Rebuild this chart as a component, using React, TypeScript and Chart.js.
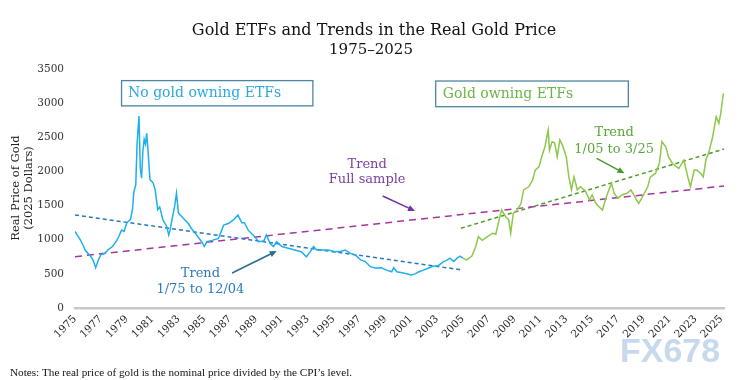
import React, { useEffect, useRef } from "react";
import { Chart, registerables } from "chart.js";

Chart.register(...registerables);

// Real gold price (2025 dollars), period without gold-owning ETFs
const noEtfYears = [
  1975.0, 1975.2, 1975.4, 1975.6, 1975.8, 1976.0, 1976.2, 1976.4, 1976.6, 1976.8,
  1977.0, 1977.3, 1977.6, 1977.9, 1978.2, 1978.4, 1978.6, 1978.8, 1979.0, 1979.3,
  1979.45, 1979.55, 1979.7, 1979.8, 1979.95, 1980.05, 1980.15, 1980.25, 1980.35, 1980.45,
  1980.55, 1980.65, 1980.8, 1981.05, 1981.2, 1981.4, 1981.55, 1981.8, 1982.1, 1982.25,
  1982.35, 1982.5, 1982.7, 1982.85, 1983.0, 1983.25, 1983.5, 1983.75, 1984.0, 1984.3,
  1984.5, 1984.8, 1985.0, 1985.2, 1985.6, 1986.1, 1986.5, 1986.9, 1987.25, 1987.6,
  1987.9, 1988.1, 1988.4, 1988.65, 1988.9, 1989.2, 1989.6, 1989.8, 1990.1, 1990.35,
  1990.6, 1991.0, 1991.5, 1992.0, 1992.5, 1992.9, 1993.2, 1993.45, 1993.7, 1994.1,
  1994.6, 1995.1, 1995.6, 1995.9, 1996.3, 1996.7, 1997.1, 1997.45, 1997.85, 1998.2,
  1998.7, 1999.1, 1999.5, 1999.65, 1999.9, 2000.5, 2001.0, 2001.3, 2001.6, 2001.95,
  2002.35, 2002.75, 2003.1, 2003.5, 2003.8, 2004.0, 2004.3, 2004.55, 2004.8, 2005.0,
];
const noEtfValues = [
  1120, 1060, 1000, 930, 840, 800, 760, 700, 590, 700,
  780, 800, 860, 900, 980, 1050, 1140, 1120, 1245, 1300,
  1450, 1700, 1800, 2400, 2810, 2050, 1900, 2300, 2470, 2400,
  2560, 2300, 1880, 1830, 1730, 1440, 1480, 1290, 1190, 1070,
  1140, 1290, 1480, 1680, 1390, 1340, 1290, 1240, 1165, 1095,
  1045, 970, 900, 970, 990, 1020, 1215, 1240, 1290, 1360,
  1250, 1250, 1140, 1090, 1045, 970, 980, 1070, 945, 900,
  970, 900, 875, 850, 825, 750, 825, 900, 850, 850,
  850, 825, 830, 850, 800, 775, 705, 680, 605, 585,
  590, 555, 530, 590, 530, 510, 485, 500, 530, 555,
  585, 615, 620, 680, 705, 730, 680, 730, 760, 730,
];

// Real gold price, period with gold-owning ETFs
const etfYears = [
  2005.0, 2005.3, 2005.7, 2006.0, 2006.2, 2006.5, 2006.9, 2007.3, 2007.55, 2007.8,
  2008.0, 2008.3, 2008.55, 2008.7, 2008.9, 2009.2, 2009.5, 2009.7, 2010.1, 2010.4,
  2010.6, 2010.9, 2011.1, 2011.35, 2011.6, 2011.7, 2011.9, 2012.1, 2012.3, 2012.5,
  2012.7, 2013.0, 2013.2, 2013.4, 2013.6, 2013.85, 2014.1, 2014.5, 2014.8, 2015.0,
  2015.3, 2015.55, 2015.8, 2016.1, 2016.3, 2016.5, 2016.7, 2017.0, 2017.3, 2017.7,
  2018.0, 2018.3, 2018.6, 2018.9, 2019.3, 2019.5, 2019.9, 2020.2, 2020.4, 2020.7,
  2020.9, 2021.2, 2021.5, 2021.7, 2022.1, 2022.4, 2022.6, 2022.9, 2023.1, 2023.4,
  2023.6, 2023.8, 2024.0, 2024.3, 2024.6, 2024.8, 2024.95, 2025.15,
];
const etfValues = [
  730, 705, 760, 900, 1045, 990, 1045, 1095, 1080, 1290,
  1435, 1340, 1290, 1095, 1385, 1435, 1530, 1730, 1775, 1875,
  2020, 2070, 2215, 2360, 2605, 2310, 2435, 2420, 2215, 2460,
  2385, 2215, 1920, 1730, 1920, 1730, 1775, 1705, 1580, 1655,
  1530, 1480, 1435, 1630, 1730, 1825, 1680, 1605, 1655, 1680,
  1730, 1630, 1530, 1630, 1775, 1920, 1970, 2120, 2435, 2360,
  2215, 2120, 2070, 2045, 2165, 1920, 1775, 2020, 2020, 1970,
  1920, 2170, 2265, 2485, 2800, 2705, 2850, 3145,
];

// Trend lines (endpoints)
const trendPreYears = [1975, 2005];
const trendPreValues = [1362, 556];
const trendFullYears = [1975, 2025.2];
const trendFullValues = [752, 1786];
const trendEtfYears = [2004.85, 2025.2];
const trendEtfValues = [1167, 2328];

// Axis ticks
const xTickYears = [
  1975, 1977, 1979, 1981, 1983, 1985, 1987, 1989, 1991, 1993, 1995, 1997, 1999,
  2001, 2003, 2005, 2007, 2009, 2011, 2013, 2015, 2017, 2019, 2021, 2023, 2025,
];
const yTickValues = [0, 500, 1000, 1500, 2000, 2500, 3000, 3500];

// Text
const titleText = "Gold ETFs and Trends in the Real Gold Price";
const subtitleText = "1975\u20132025";
const yTitleLines = ["Real Price of Gold", "(2025 Dollars)"];
const notesText = "Notes: The real price of gold is the nominal price divided by the CPI\u2019s level.";

const SERIF = "'DejaVu Serif', serif";

const pts = (xs: number[], ys: number[]) => xs.map((x, i) => ({ x, y: ys[i] }));

export default function App() {
  const ref = useRef<HTMLCanvasElement | null>(null);

  useEffect(() => {
    const canvas = ref.current;
    if (!canvas) return;

    const drawArrow = (ctx: CanvasRenderingContext2D, x1: number, y1: number, x2: number, y2: number, color: string) => {
      const a = Math.atan2(y2 - y1, x2 - x1);
      const h = 7;
      ctx.save();
      ctx.strokeStyle = color;
      ctx.fillStyle = color;
      ctx.lineWidth = 1.5;
      ctx.beginPath();
      ctx.moveTo(x1, y1);
      ctx.lineTo(x2 - Math.cos(a) * h * 0.8, y2 - Math.sin(a) * h * 0.8);
      ctx.stroke();
      ctx.beginPath();
      ctx.moveTo(x2, y2);
      ctx.lineTo(x2 - h * Math.cos(a) + (h / 2.2) * Math.sin(a), y2 - h * Math.sin(a) - (h / 2.2) * Math.cos(a));
      ctx.lineTo(x2 - h * Math.cos(a) - (h / 2.2) * Math.sin(a), y2 - h * Math.sin(a) + (h / 2.2) * Math.cos(a));
      ctx.closePath();
      ctx.fill();
      ctx.restore();
    };

    const decor = {
      id: "decor",
      afterDraw(chart: any) {
        const ctx: CanvasRenderingContext2D = chart.ctx;
        const xs = chart.scales.x;
        const ys = chart.scales.y;
        const X = (v: number) => xs.getPixelForValue(v);
        const Y = (v: number) => ys.getPixelForValue(v);
        ctx.save();

        // Title
        ctx.fillStyle = "#111";
        ctx.textAlign = "center";
        ctx.textBaseline = "alphabetic";
        ctx.font = `16px ${SERIF}`;
        ctx.fillText(titleText, 374, 35);
        ctx.font = `15px ${SERIF}`;
        ctx.fillText(subtitleText, 371, 54);

        // Y title
        ctx.save();
        ctx.translate(19, 188);
        ctx.rotate(-Math.PI / 2);
        ctx.font = `11.5px ${SERIF}`;
        ctx.fillStyle = "#222";
        ctx.textAlign = "center";
        ctx.fillText(yTitleLines[0], 0, 0);
        ctx.fillText(yTitleLines[1], 0, 13);
        ctx.restore();

        // Boxes
        ctx.strokeStyle = "#4a86a3";
        ctx.lineWidth = 1.3;
        ctx.strokeRect(X(1978.6), Y(3330), X(1993.4) - X(1978.6), Y(2960) - Y(3330));
        ctx.strokeRect(X(2002.9), Y(3324), X(2017.8) - X(2002.9), Y(2948) - Y(3324));
        ctx.font = `14px ${SERIF}`;
        ctx.textAlign = "left";
        ctx.fillStyle = "#2aa8e0";
        ctx.fillText("No gold owning ETFs", X(1979.1), Y(3083));
        ctx.fillStyle = "#6ab545";
        ctx.fillText("Gold owning ETFs", X(2003.45), Y(3075));

        // Trend labels
        ctx.textAlign = "center";
        ctx.font = `13px ${SERIF}`;
        ctx.fillStyle = "#7a3fa0";
        ctx.fillText("Trend", X(1997.6), Y(2055));
        ctx.fillText("Full sample", X(1997.6), Y(1826));
        drawArrow(ctx, X(1998.8), Y(1640), X(2001.3), Y(1420), "#6f35a3");

        ctx.fillStyle = "#2e7cc0";
        ctx.fillText("Trend", X(1984.7), Y(458));
        ctx.fillText("1/75 to 12/04", X(1984.7), Y(220));
        drawArrow(ctx, X(1987.15), Y(513), X(1990.6), Y(835), "#2d6e8c");

        ctx.fillStyle = "#5aa83a";
        ctx.fillText("Trend", X(2016.7), Y(2519));
        ctx.fillText("1/05 to 3/25", X(2016.7), Y(2274));
        drawArrow(ctx, X(2015.35), Y(2192), X(2017.5), Y(1973), "#4a9a2a");

        // Notes
        ctx.textAlign = "left";
        ctx.fillStyle = "#111";
        ctx.font = `11.2px 'Liberation Serif', serif`;
        ctx.fillText(notesText, 10, 376);

        // Watermark
        ctx.textAlign = "left";
        ctx.font = `bold 34px 'Liberation Sans', sans-serif`;
        ctx.fillStyle = "rgba(180,204,230,0.75)";
        ctx.fillText("FX678", 620, 362);

        ctx.restore();
      },
    };

    const chart = new Chart(canvas, {
      type: "line",
      data: {
        datasets: [
          {
            data: pts(noEtfYears, noEtfValues),
            borderColor: "#1fb0ec",
            borderWidth: 1.5,
            pointRadius: 0,
            tension: 0,
          },
          {
            data: pts(etfYears, etfValues),
            borderColor: "#8dc84a",
            borderWidth: 1.5,
            pointRadius: 0,
            tension: 0,
          },
          {
            data: pts(trendPreYears, trendPreValues),
            borderColor: "#2676c0",
            borderWidth: 1.5,
            borderDash: [4, 3],
            pointRadius: 0,
          },
          {
            data: pts(trendFullYears, trendFullValues),
            borderColor: "#a8349f",
            borderWidth: 1.5,
            borderDash: [7, 5],
            pointRadius: 0,
          },
          {
            data: pts(trendEtfYears, trendEtfValues),
            borderColor: "#4f9c2c",
            borderWidth: 1.5,
            borderDash: [4, 3],
            pointRadius: 0,
          },
        ],
      },
      options: {
        animation: false,
        responsive: false,
        maintainAspectRatio: false,
        layout: { padding: { left: 0, right: 22, top: 69, bottom: 0 } },
        plugins: {
          legend: { display: false },
          tooltip: { enabled: false },
          title: { display: false },
        },
        scales: {
          x: {
            type: "linear",
            min: 1975,
            max: 2025.2,
            grid: { display: false, drawTicks: false },
            border: { display: true, color: "#c8c8c8", width: 2.5, dash: [1, 1] },
            afterBuildTicks: (s: any) => {
              s.ticks = xTickYears.map((v) => ({ value: v }));
            },
            afterFit: (s: any) => {
              s.height = 72;
            },
            ticks: {
              autoSkip: false,
              minRotation: 45,
              maxRotation: 45,
              padding: 5,
              color: "#222",
              font: { family: SERIF, size: 10.5 },
              callback: (v: any) => String(v),
            },
          },
          y: {
            min: 0,
            max: 3500,
            grid: { display: false, drawTicks: false },
            border: { display: false },
            afterBuildTicks: (s: any) => {
              s.ticks = yTickValues.map((v) => ({ value: v }));
            },
            afterFit: (s: any) => {
              s.width = 75;
            },
            ticks: {
              padding: 11,
              color: "#333",
              font: { family: SERIF, size: 10.5 },
              callback: (v: any) => String(v),
            },
          },
        },
      },
      plugins: [decor],
    } as any);

    return () => chart.destroy();
  }, []);

  return (
    <div style={{ position: "absolute", left: 0, top: 0, width: 746, height: 380, background: "#fff" }}>
      <canvas ref={ref} width={746} height={380} style={{ width: 746, height: 380, display: "block" }} />
    </div>
  );
}
